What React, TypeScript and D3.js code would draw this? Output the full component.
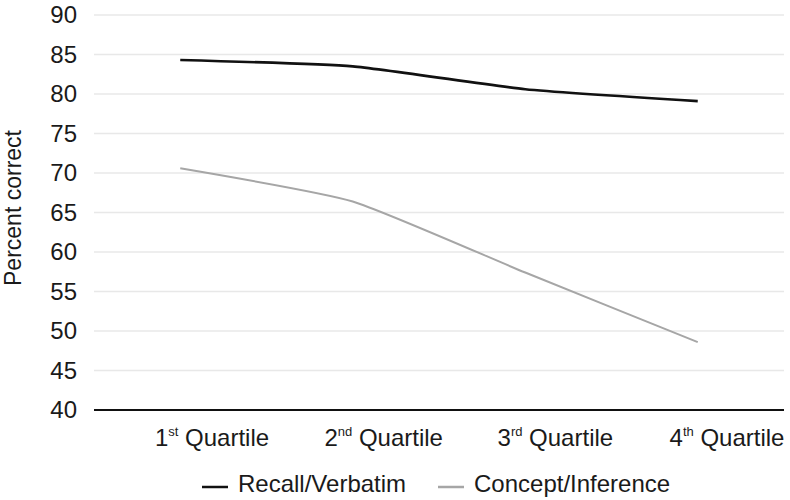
import React from "react";
import * as d3 from "d3";

const categories = ["1", "2", "3", "4"];
const suffixes = ["st", "nd", "rd", "th"];
const recall = [84.3, 83.5, 80.6, 79.1];
const concept = [70.6, 66.4, 57.4, 48.6];
const yTicks = [40, 45, 50, 55, 60, 65, 70, 75, 80, 85, 90];
const seriesNames = ["Recall/Verbatim", "Concept/Inference"];
const seriesColors = ["#111111", "#a6a6a6"];

const W = 790;
const H = 500;
const FONT = "'Liberation Sans', Arial, sans-serif";

export default function App() {
  const x = d3.scaleBand<string>().domain(categories).range([94, 784]);
  const labelX = d3.scalePoint<string>().domain(categories).range([212, 727]);
  const y = d3.scaleLinear().domain([40, 90]).range([410, 15]);
  const px = (c: string) => (x(c) as number) + x.bandwidth() / 2;

  const line = d3
    .line<number>()
    .x((_, i) => px(categories[i]))
    .y((d) => y(d))
    .curve(d3.curveCardinal.tension(0.5));

  const series = [recall, concept];

  return (
    <svg
      width={W}
      height={H}
      style={{ position: "absolute", left: 0, top: 0, background: "#fff" }}
      fontFamily={FONT}
    >
      {yTicks.map((t) => (
        <g key={t}>
          {t !== 40 && (
            <line x1={94} x2={784} y1={y(t)} y2={y(t)} stroke="#e8e8e8" strokeWidth={1.5} />
          )}
          <text x={77} y={y(t)} dy="0.35em" textAnchor="end" fontSize={24} fill="#1a1a1a">
            {t}
          </text>
        </g>
      ))}
      <line x1={94} x2={784} y1={y(40)} y2={y(40)} stroke="#111" strokeWidth={2} />

      {series.map((s, i) => (
        <path key={i} d={line(s) || ""} fill="none" stroke={seriesColors[i]} strokeWidth={i === 0 ? 2.6 : 2} />
      ))}

      {categories.map((c, i) => (
        <text key={c} x={labelX(c)} y={446} textAnchor="middle" fontSize={24} fill="#1a1a1a">
          {c}
          <tspan fontSize={13} dy={-10}>{suffixes[i]}</tspan>
          <tspan dy={10}> Quartile</tspan>
        </text>
      ))}

      <text
        transform={`translate(21,208) rotate(-90)`}
        textAnchor="middle"
        fontSize={23}
        fill="#1a1a1a"
      >
        Percent correct
      </text>

      {seriesNames.map((n, i) => {
        const lx = i === 0 ? 202 : 438;
        return (
          <g key={n}>
            <line x1={lx} x2={lx + 26} y1={487} y2={487} stroke={seriesColors[i]} strokeWidth={2.5} />
            <text x={lx + 36} y={492} fontSize={24} fill="#1a1a1a">
              {n}
            </text>
          </g>
        );
      })}
    </svg>
  );
}
